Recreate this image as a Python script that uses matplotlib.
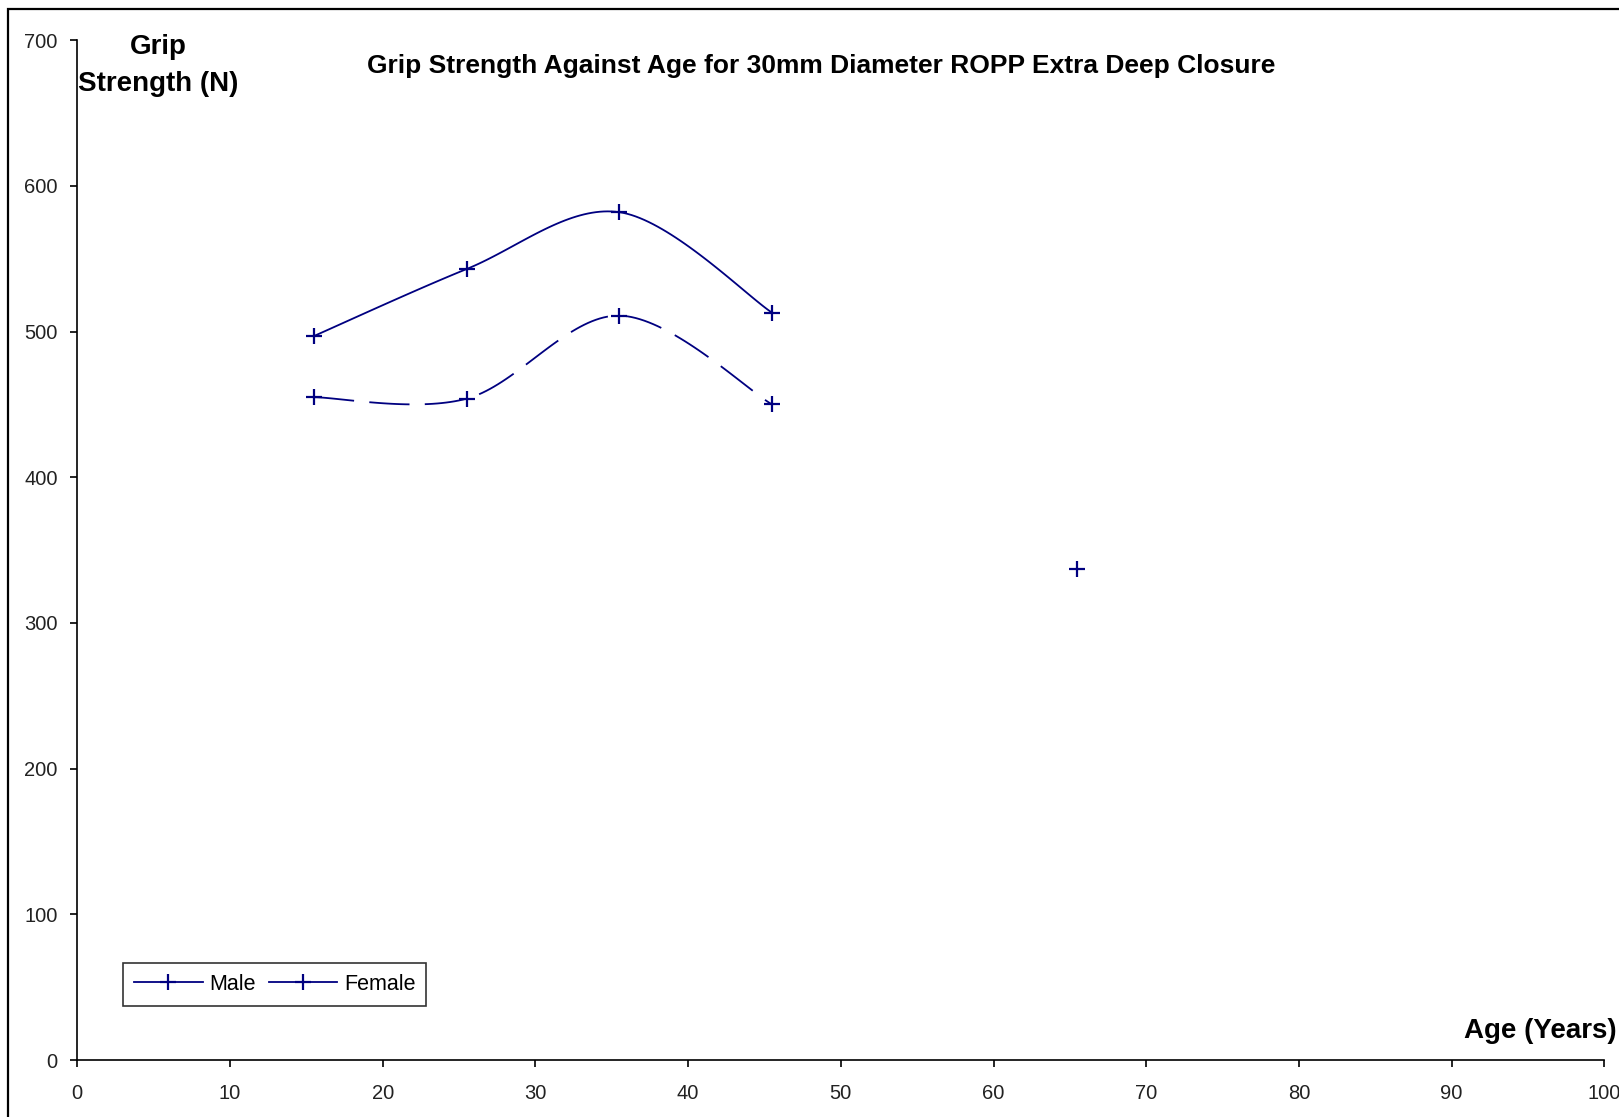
import numpy as np
import matplotlib
matplotlib.use("Agg")
import matplotlib.pyplot as plt
from matplotlib.patches import Rectangle
from matplotlib.lines import Line2D

# ---- data ----
ages = [15.5, 25.5, 35.5, 45.5, 55.5, 65.5]
male = [497, 543, 582, 513, np.nan, 337]
female = [455, 454, 511, 450, np.nan, np.nan]
x_ticks = [0, 10, 20, 30, 40, 50, 60, 70, 80, 90, 100]
y_ticks = [0, 100, 200, 300, 400, 500, 600, 700]
title = "Grip Strength Against Age for 30mm Diameter ROPP Extra Deep Closure"
series_names = ["Male", "Female"]

NAVY = "#000080"
plt.rcParams['font.family'] = ['Liberation Sans', 'DejaVu Sans']
plt.rcParams['lines.scale_dashes'] = False


def smooth_runs(xs, ys, n=40):
    """Excel-style smoothed line (Catmull-Rom Bezier) over runs of valid points."""
    xs = np.asarray(xs, float)
    ys = np.asarray(ys, float)
    runs, cur = [], []
    for xv, yv in zip(xs, ys):
        if np.isnan(yv):
            if cur:
                runs.append(cur)
            cur = []
        else:
            cur.append((xv, yv))
    if cur:
        runs.append(cur)
    out = []
    for run in runs:
        if len(run) < 2:
            continue
        P = np.array(run)
        px, py = [], []
        for i in range(len(P) - 1):
            p0 = P[i - 1] if i > 0 else P[i]
            p1 = P[i]
            p2 = P[i + 1]
            p3 = P[i + 2] if i + 2 < len(P) else P[i + 1]
            c1 = p1 + (p2 - p0) / 6.0
            c2 = p2 - (p3 - p1) / 6.0
            t = np.linspace(0, 1, n)[:, None]
            seg = ((1 - t) ** 3) * p1 + 3 * ((1 - t) ** 2) * t * c1 + 3 * (1 - t) * t ** 2 * c2 + t ** 3 * p2
            if i > 0:
                seg = seg[1:]
            px.extend(seg[:, 0])
            py.extend(seg[:, 1])
        out.append((np.array(px), np.array(py)))
    return out


fig = plt.figure(figsize=(16.19, 11.17), dpi=100)
ax = fig.add_axes([77.3 / 1619, 1 - 1060 / 1117, (1604.3 - 77.3) / 1619, (1060 - 40.3) / 1117])

styles = [dict(linestyle='-'), dict(linestyle=(0, (29, 11)))]
for name, ys, st in zip(series_names, [male, female], styles):
    for sx, sy in smooth_runs(ages, ys):
        ax.plot(sx, sy, color=NAVY, lw=1.3, **st)
    ax.plot(ages, ys, linestyle='none', marker='+', color=NAVY, ms=11, mew=1.6)

ax.set_xlim(x_ticks[0], x_ticks[-1])
ax.set_ylim(y_ticks[0], y_ticks[-1])
ax.set_xticks(x_ticks)
ax.set_yticks(y_ticks)
ax.set_xticklabels([str(v) for v in x_ticks])
ax.set_yticklabels([str(v) for v in y_ticks])
for s in ['top', 'right']:
    ax.spines[s].set_visible(False)
for s in ['left', 'bottom']:
    ax.spines[s].set_linewidth(1.2)
    ax.spines[s].set_color('black')
ax.tick_params(axis='both', direction='out', length=5, width=1.2, labelsize=14.5, colors='black')
ax.tick_params(axis='y', pad=9)
ax.tick_params(axis='x', pad=12)
ax.tick_params(axis='both', labelcolor='#222222')
ax.patch.set_alpha(0)

handles = [Line2D([], [], color=NAVY, lw=1.3, marker='+', ms=11, mew=1.6) for _ in series_names]
leg = fig.legend(handles, series_names, loc='upper left',
                 bbox_to_anchor=(123 / 1619, 1 - 963 / 1117), ncol=2,
                 fontsize=15.5, handlelength=3.2, handletextpad=0.3, columnspacing=0.6,
                 borderpad=0.5, borderaxespad=0, fancybox=False, frameon=True)
leg.get_frame().set_edgecolor('black')
leg.get_frame().set_linewidth(1.2)

# texts
fig.text(821 / 1619, 1 - 66 / 1117, title, ha='center', va='center', fontsize=19, fontweight='bold')
fig.text(158 / 1619, 1 - 47 / 1117, "Grip", ha='center', va='center', fontsize=20, fontweight='bold')
fig.text(158 / 1619, 1 - 84 / 1117, "Strength (N)", ha='center', va='center', fontsize=20, fontweight='bold')
fig.text(1617 / 1619, 1 - 1031 / 1117, "Age (Years)", ha='right', va='center', fontsize=20, fontweight='bold')

# outer chart border (top-left visible, rest cropped)
fig.patches.append(Rectangle((8 / 1619, -0.1), 1.2, (1117 - 9) / 1117 + 0.1, transform=fig.transFigure,
                             fill=False, edgecolor='black', lw=1.6, clip_on=False))

fig.savefig("out.png", dpi=100)
